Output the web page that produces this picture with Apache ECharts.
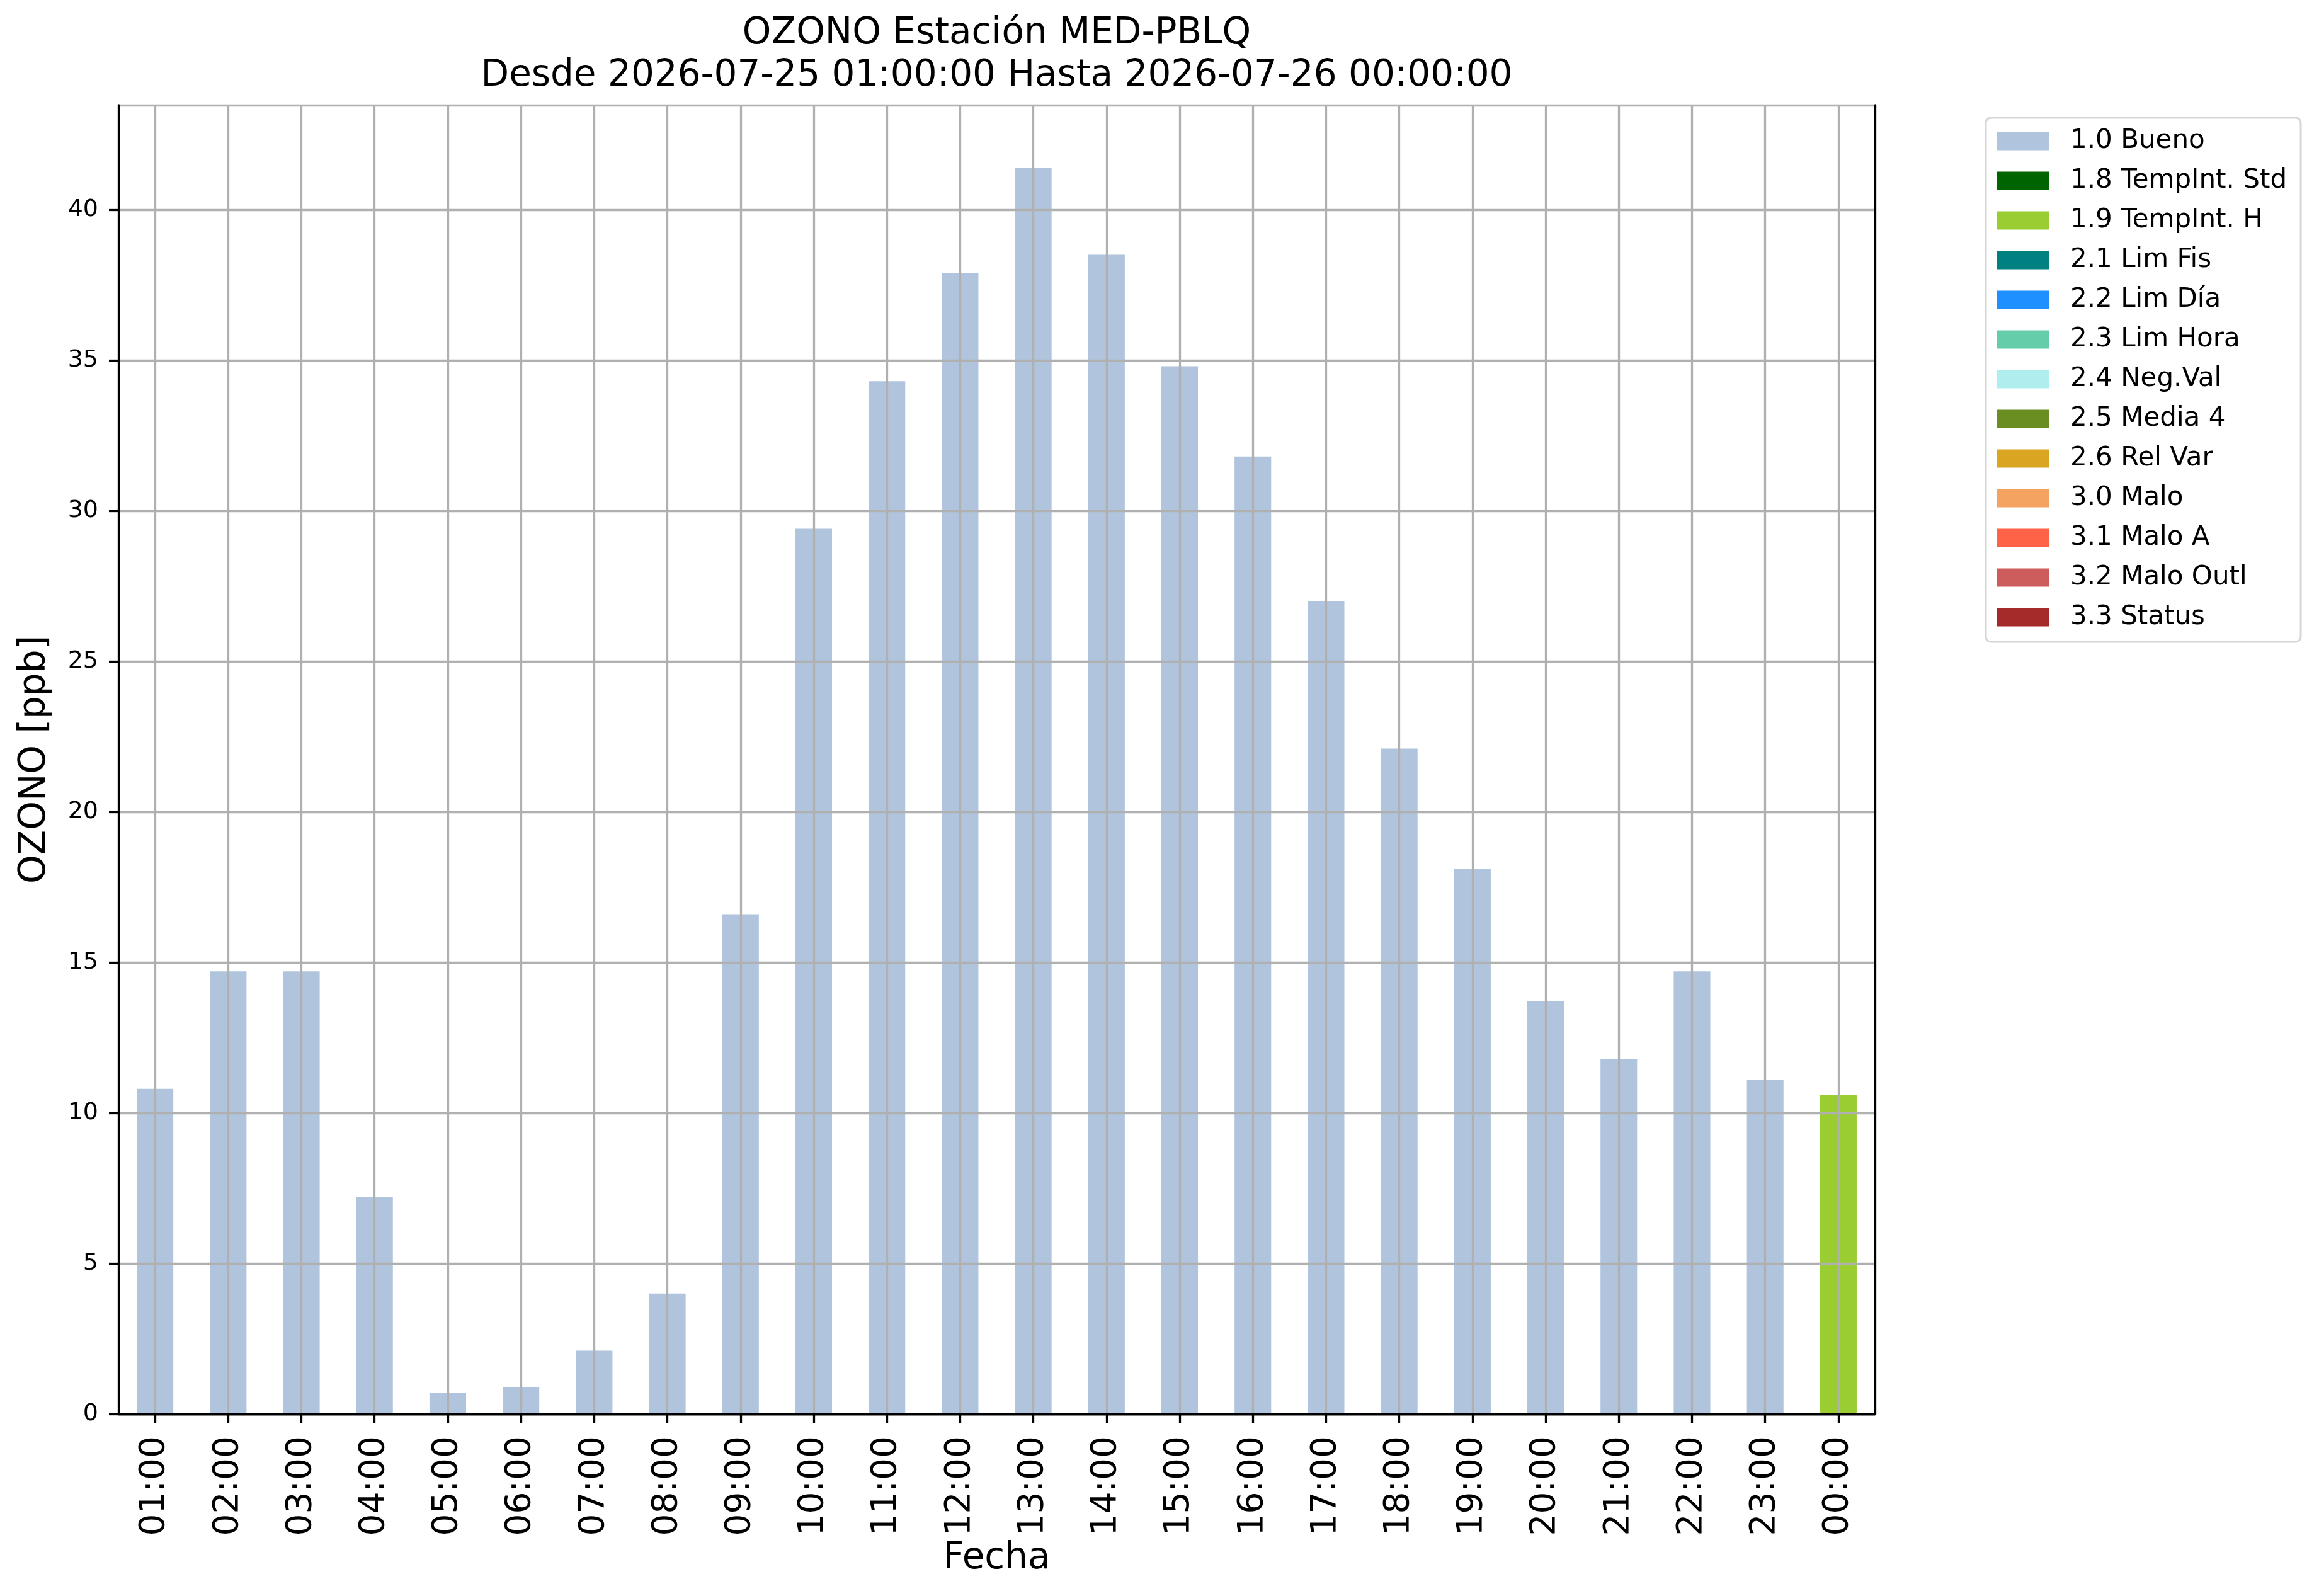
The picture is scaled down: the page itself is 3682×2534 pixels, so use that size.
<!DOCTYPE html>
<html><head><meta charset="utf-8">
<script src="https://cdn.jsdelivr.net/npm/echarts@6/dist/echarts.min.js"></script>
<style>html,body{margin:0;padding:0;background:#fff}#c{width:3682px;height:2534px}</style>
</head><body><div id="c"></div>
<script>
// ---- data ----
const categories = ['01:00','02:00','03:00','04:00','05:00','06:00','07:00','08:00','09:00','10:00','11:00','12:00',
  '13:00','14:00','15:00','16:00','17:00','18:00','19:00','20:00','21:00','22:00','23:00','00:00'];
const bueno = [10.8, 14.7, 14.7, 7.2, 0.7, 0.9, 2.1, 4.0, 16.6, 29.4, 34.3, 37.9,
  41.4, 38.5, 34.8, 31.8, 27.0, 22.1, 18.1, 13.7, 11.8, 14.7, 11.1, null];
const tempIntStd = [];
const tempIntH = [null, null, null, null, null, null, null, null, null, null, null, null,
  null, null, null, null, null, null, null, null, null, null, null, 10.6];
const limFis = [];
const limDia = [];
const limHora = [];
const negVal = [];
const media4 = [];
const relVar = [];
const malo = [];
const maloA = [];
const maloOutl = [];
const status = [];
const seriesNames = ['1.0 Bueno','1.8 TempInt. Std','1.9 TempInt. H','2.1 Lim Fis','2.2 Lim Día','2.3 Lim Hora',
  '2.4 Neg.Val','2.5 Media 4','2.6 Rel Var','3.0 Malo','3.1 Malo A','3.2 Malo Outl','3.3 Status'];
const seriesData = [bueno, tempIntStd, tempIntH, limFis, limDia, limHora, negVal, media4, relVar, malo, maloA, maloOutl, status];
const yTicks = [0, 5, 10, 15, 20, 25, 30, 35, 40];
const yMax = 43.47;
const titleText = 'OZONO Estación MED-PBLQ\nDesde 2026-07-25 01:00:00 Hasta 2026-07-26 00:00:00';

// ---- styles ----
const seriesColors = ['#B0C4DE','#006400','#9ACD32','#008080','#1E90FF','#66CDAA',
  '#AFEEEE','#6B8E23','#DAA520','#F4A460','#FF6347','#CD5C5C','#A52A2A'];
const FONT = 'DejaVu Sans';
const LW = 3.3;
const GRID_COLOR = '#b0b0b0';

const chart = echarts.init(document.getElementById('c'), null, {renderer: 'canvas'});
const gridL = 188, gridT = 167, gridR = 2977, gridB = 2245;

const option = {
  animation: false,
  backgroundColor: '#ffffff',
  textStyle: {fontFamily: FONT},
  title: {
    text: titleText,
    left: (gridL + gridR) / 2,
    top: 20,
    padding: 0,
    textAlign: 'center',
    textStyle: {fontFamily: FONT, fontSize: 58, fontWeight: 'normal', color: '#000', lineHeight: 67}
  },
  legend: {
    orient: 'vertical',
    left: 3153,
    top: 187,
    padding: [16, 22, 18, 18],
    itemWidth: 83,
    itemHeight: 29,
    itemGap: 21,
    icon: 'rect',
    backgroundColor: '#ffffff',
    borderColor: '#d6d6d6',
    borderWidth: 3,
    borderRadius: 8,
    data: seriesNames,
    textStyle: {fontFamily: FONT, fontSize: 42, color: '#000', padding: [0, 0, 0, 28]}
  },
  grid: {left: gridL, top: gridT, width: gridR - gridL, height: gridB - gridT, show: false, containLabel: false},
  xAxis: [
    { // main bottom axis
      type: 'category', data: categories, position: 'bottom', z: 20,
      boundaryGap: true,
      axisLine: {show: true, lineStyle: {color: '#000', width: LW}},
      axisTick: {show: true, alignWithLabel: true, length: 15, lineStyle: {color: '#000', width: LW}},
      axisLabel: {show: true, rotate: 90, margin: 35, fontSize: 55, color: '#000', fontFamily: FONT, interval: 0},
      splitLine: {show: false},
      name: 'Fecha', nameLocation: 'middle', nameGap: 196,
      nameTextStyle: {fontFamily: FONT, fontSize: 58, color: '#000'}
    },
    { // vertical grid lines
      type: 'category', data: categories, position: 'top', z: 5,
      boundaryGap: true,
      axisLine: {show: false}, axisTick: {show: false}, axisLabel: {show: false},
      splitLine: {show: true, alignWithLabel: true, interval: 0, lineStyle: {color: GRID_COLOR, width: LW}}
    },
    { // top frame
      type: 'category', data: categories, position: 'top', z: 20,
      axisLine: {show: true, lineStyle: {color: '#000', width: LW}},
      axisTick: {show: false}, axisLabel: {show: false}, splitLine: {show: false}
    }
  ],
  yAxis: [
    { // main left axis
      type: 'value', min: 0, max: yMax, interval: 5, position: 'left', z: 20,
      axisLine: {show: true, lineStyle: {color: '#000', width: LW}},
      axisTick: {show: true, length: 15, lineStyle: {color: '#000', width: LW}, customValues: yTicks},
      axisLabel: {show: true, margin: 32, fontSize: 38, color: '#000', fontFamily: FONT, customValues: yTicks},
      splitLine: {show: false},
      name: 'OZONO [ppb]', nameLocation: 'middle', nameGap: 103, nameRotate: 90,
      nameTextStyle: {fontFamily: FONT, fontSize: 58, color: '#000'}
    },
    { // horizontal grid lines
      type: 'value', min: 0, max: yMax, interval: 5, position: 'left', z: 5,
      axisLine: {show: false}, axisTick: {show: false}, axisLabel: {show: false},
      splitLine: {show: true, lineStyle: {color: GRID_COLOR, width: LW}}
    },
    { // right frame
      type: 'value', min: 0, max: yMax, interval: 5, position: 'right', z: 20,
      axisLine: {show: true, onZero: false, lineStyle: {color: '#000', width: LW}},
      axisTick: {show: false}, axisLabel: {show: false}, splitLine: {show: false}
    }
  ],
  series: seriesNames.map((name, i) => ({
    name: name,
    type: 'bar',
    stack: 'total',
    xAxisIndex: 0,
    yAxisIndex: 0,
    barWidth: '50%',
    z: 2,
    itemStyle: {color: seriesColors[i]},
    emphasis: {disabled: true},
    data: seriesData[i]
  }))
};
chart.setOption(option);
</script>
</body></html>
